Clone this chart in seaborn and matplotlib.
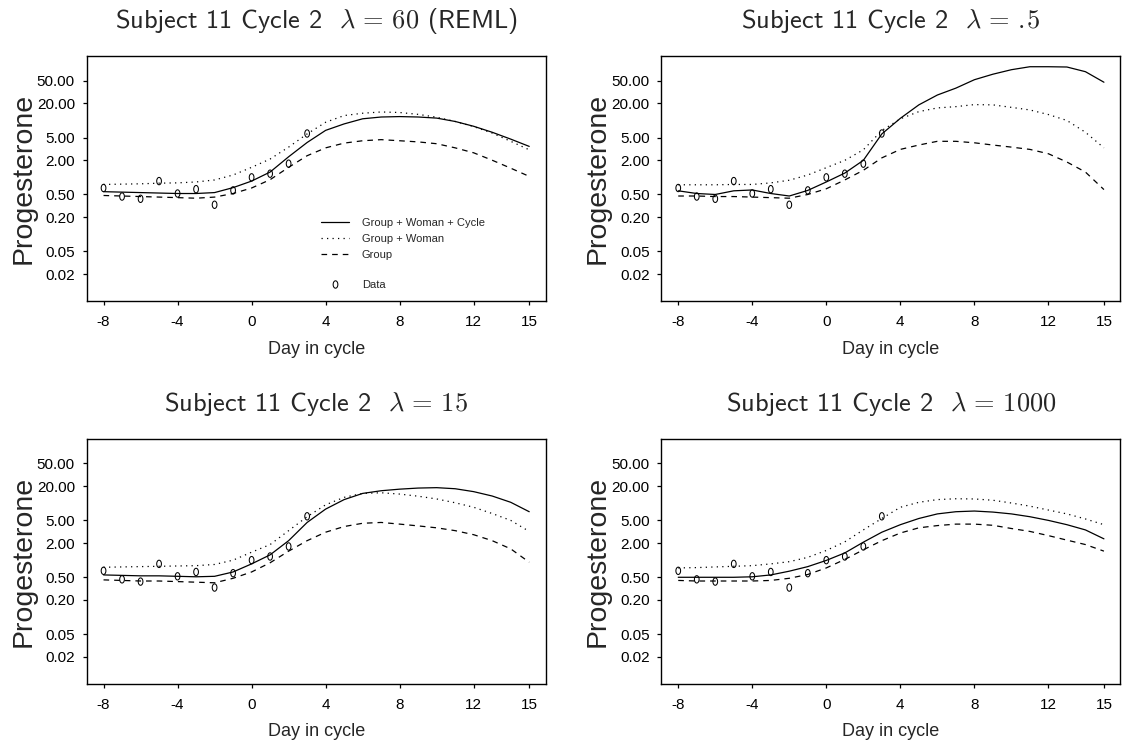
import numpy as np
import pandas as pd
import matplotlib
matplotlib.use("Agg")
import matplotlib.pyplot as plt
import seaborn as sns
from matplotlib.path import Path
from matplotlib.lines import Line2D
from matplotlib.ticker import NullLocator, FixedLocator, FixedFormatter

# ---------------------------------------------------------------- data
days = list(range(-8, 16))
obs_days = list(range(-8, 4))
obs_progesterone = [0.65, 0.46, 0.42, 0.86, 0.52, 0.62, 0.33, 0.59, 1.0, 1.16, 1.74, 5.9]

# lambda = 60 (REML)
reml_cycle = [0.56, 0.55, 0.54, 0.53, 0.52, 0.52, 0.54, 0.66, 0.86, 1.24, 2.3, 4.1,
              6.7, 8.7, 10.7, 11.5, 11.7, 11.5, 11.0, 9.6, 7.9, 6.2, 4.7, 3.5]
reml_woman = [0.75, 0.76, 0.77, 0.79, 0.80, 0.83, 0.90, 1.1, 1.5, 2.1, 3.4, 5.8,
              9.3, 12.2, 13.4, 14.1, 13.8, 12.8, 11.4, 9.6, 7.8, 6.0, 4.3, 3.05]
reml_group = [0.48, 0.47, 0.46, 0.45, 0.44, 0.43, 0.45, 0.52, 0.65, 0.91, 1.5, 2.4,
              3.3, 4.0, 4.4, 4.6, 4.4, 4.2, 3.9, 3.3, 2.7, 2.0, 1.45, 1.04]

# lambda = .5
lam05_cycle = [0.58, 0.52, 0.50, 0.58, 0.60, 0.52, 0.47, 0.59, 0.83, 1.19, 1.99, 5.8,
               10.9, 18.8, 28.0, 37.0, 52.0, 65.0, 78.0, 88.0, 88.0, 87.0, 72.0, 47.0]
lam05_woman = [0.74, 0.74, 0.74, 0.75, 0.75, 0.80, 0.89, 1.1, 1.48, 1.99, 3.05, 6.65,
               10.7, 14.3, 16.6, 17.5, 19.0, 18.8, 17.0, 15.3, 12.7, 10.0, 6.2, 3.3]
lam05_group = [0.47, 0.47, 0.46, 0.46, 0.45, 0.44, 0.43, 0.50, 0.63, 0.90, 1.33, 2.2,
               3.1, 3.7, 4.3, 4.3, 4.05, 3.7, 3.4, 3.1, 2.6, 1.86, 1.24, 0.61]

# lambda = 15
lam15_cycle = [0.55, 0.54, 0.53, 0.53, 0.52, 0.51, 0.52, 0.62, 0.86, 1.24, 2.2, 4.6,
               7.9, 11.6, 14.9, 16.6, 17.7, 18.5, 18.8, 18.0, 16.0, 13.4, 10.4, 7.1]
lam15_woman = [0.75, 0.76, 0.77, 0.78, 0.79, 0.80, 0.84, 1.0, 1.38, 1.88, 3.3, 5.8,
               9.4, 12.7, 14.9, 15.3, 14.5, 13.3, 11.9, 10.2, 8.5, 6.6, 5.0, 3.2]
lam15_group = [0.45, 0.44, 0.43, 0.43, 0.42, 0.41, 0.40, 0.48, 0.62, 0.90, 1.44, 2.2,
               3.1, 3.9, 4.45, 4.6, 4.3, 4.0, 3.7, 3.3, 2.8, 2.2, 1.58, 0.92]

# lambda = 1000
lam1000_cycle = [0.50, 0.50, 0.50, 0.50, 0.51, 0.55, 0.64, 0.77, 0.99, 1.34, 2.07, 3.1,
                 4.2, 5.4, 6.5, 7.1, 7.3, 7.0, 6.5, 5.8, 5.0, 4.2, 3.4, 2.37]
lam1000_woman = [0.73, 0.74, 0.76, 0.78, 0.80, 0.86, 0.94, 1.12, 1.48, 2.1, 3.4, 5.4,
                 8.5, 10.4, 11.6, 12.0, 11.9, 11.3, 10.1, 8.9, 7.6, 6.5, 5.3, 4.2]
lam1000_group = [0.44, 0.43, 0.43, 0.43, 0.43, 0.44, 0.48, 0.56, 0.73, 1.03, 1.52, 2.2,
                 3.0, 3.7, 4.05, 4.3, 4.3, 4.1, 3.6, 3.2, 2.7, 2.25, 1.88, 1.44]

titles = [r"Subject 11 Cycle 2  $\lambda \,=\, 60$ (REML)",
          r"Subject 11 Cycle 2  $\lambda \,=\, .\!5$",
          r"Subject 11 Cycle 2  $\lambda \,=\, 15$",
          r"Subject 11 Cycle 2  $\lambda \,=\, 1000$"]

x_ticks = [-8, -4, 0, 4, 8, 12, 15]
y_ticks = [0.02, 0.05, 0.2, 0.5, 2, 5, 20, 50]
y_tick_labels = ["0.02", "0.05", "0.20", "0.50", "2.00", "5.00", "20.00", "50.00"]
series_labels = ["Group + Woman + Cycle", "Group + Woman", "Group"]

# ---------------------------------------------------------------- style
sns.set_style("ticks")
SANS = ["Liberation Sans", "DejaVu Sans"]
plt.rcParams["font.family"] = SANS
plt.rcParams["mathtext.fontset"] = "cm"
plt.rcParams["axes.linewidth"] = 1.0
plt.rcParams["axes.edgecolor"] = "black"

LW = 0.9
line_styles = ["-", (0, (1, 3.4)), (0, (4.5, 4))]

# open oval used for the observed values
theta = np.linspace(0, 2 * np.pi, 64)
oval = Path(np.column_stack([0.64 * np.cos(theta), np.sin(theta)]), closed=True)

fig = plt.figure(figsize=(11.25, 7.49), dpi=100)
W, H = 1125.0, 749.0
ax_w, ax_h = 459.0 / W, 244.7 / H
lefts = [86.7 / W, 661.4 / W]
bottoms = [1 - 300.7 / H, 1 - 683.5 / H]

panels = [
    (reml_cycle, reml_woman, reml_group),
    (lam05_cycle, lam05_woman, lam05_group),
    (lam15_cycle, lam15_woman, lam15_group),
    (lam1000_cycle, lam1000_woman, lam1000_group),
]

for i, (curves, title) in enumerate(zip(panels, titles)):
    row, col = divmod(i, 2)
    ax = fig.add_axes([lefts[col], bottoms[row], ax_w, ax_h])

    for values, ls in zip(curves, line_styles):
        frame = pd.DataFrame({"day": days, "progesterone": values})
        sns.lineplot(data=frame, x="day", y="progesterone", ax=ax, color="black",
                     linewidth=LW, linestyle=ls, legend=False)

    obs = pd.DataFrame({"day": obs_days, "progesterone": obs_progesterone})
    sns.scatterplot(data=obs, x="day", y="progesterone", ax=ax, marker=oval, s=28,
                    facecolor="none", edgecolor="black", linewidth=0.75, zorder=3,
                    legend=False)

    ax.set_yscale("log")
    ax.set_xlim(-8.91, 15.89)
    ax.set_ylim(10 ** -2.168, 10 ** 2.133)
    ax.xaxis.set_major_locator(FixedLocator(x_ticks))
    ax.set_xticklabels([str(t) for t in x_ticks])
    ax.yaxis.set_major_locator(FixedLocator(y_ticks))
    ax.yaxis.set_major_formatter(FixedFormatter(y_tick_labels))
    ax.yaxis.set_minor_locator(NullLocator())
    ax.tick_params(axis="both", which="major", direction="out", length=3,
                   width=0.9, color="black", labelsize=11, labelcolor="black")
    ax.tick_params(axis="x", pad=7.5)
    ax.tick_params(axis="y", pad=5.5)
    for sp in ax.spines.values():
        sp.set_visible(True)
        sp.set_linewidth(1.0)

    ax.set_xlabel("Day in cycle", fontsize=13, va="top")
    ax.xaxis.set_label_coords(0.5, -0.163)
    ax.set_ylabel("Progesterone", fontsize=20.5)
    ax.yaxis.set_label_coords(-0.110, 0.5)
    ax.set_title(title, fontsize=19, family="cmss10", pad=20)

    if i == 0:
        handles = [Line2D([], [], color="black", lw=LW, linestyle=ls) for ls in line_styles]
        leg1 = ax.legend(handles, series_labels, loc="upper left",
                         bbox_to_anchor=(0.51, 0.34), frameon=False, fontsize=8,
                         borderpad=0, borderaxespad=0, handlelength=2.58,
                         handletextpad=1.12, labelspacing=0.55)
        ax.add_artist(leg1)
        data_handle = Line2D([], [], linestyle="none", marker=oval, markersize=5.3,
                             markerfacecolor="none", markeredgecolor="black",
                             markeredgewidth=0.75)
        ax.legend([data_handle], ["Data"], loc="upper left",
                  bbox_to_anchor=(0.51, 0.084), frameon=False, fontsize=8,
                  borderpad=0, borderaxespad=0, handlelength=2.58,
                  handletextpad=1.12)

fig.savefig("out.png", dpi=100)
